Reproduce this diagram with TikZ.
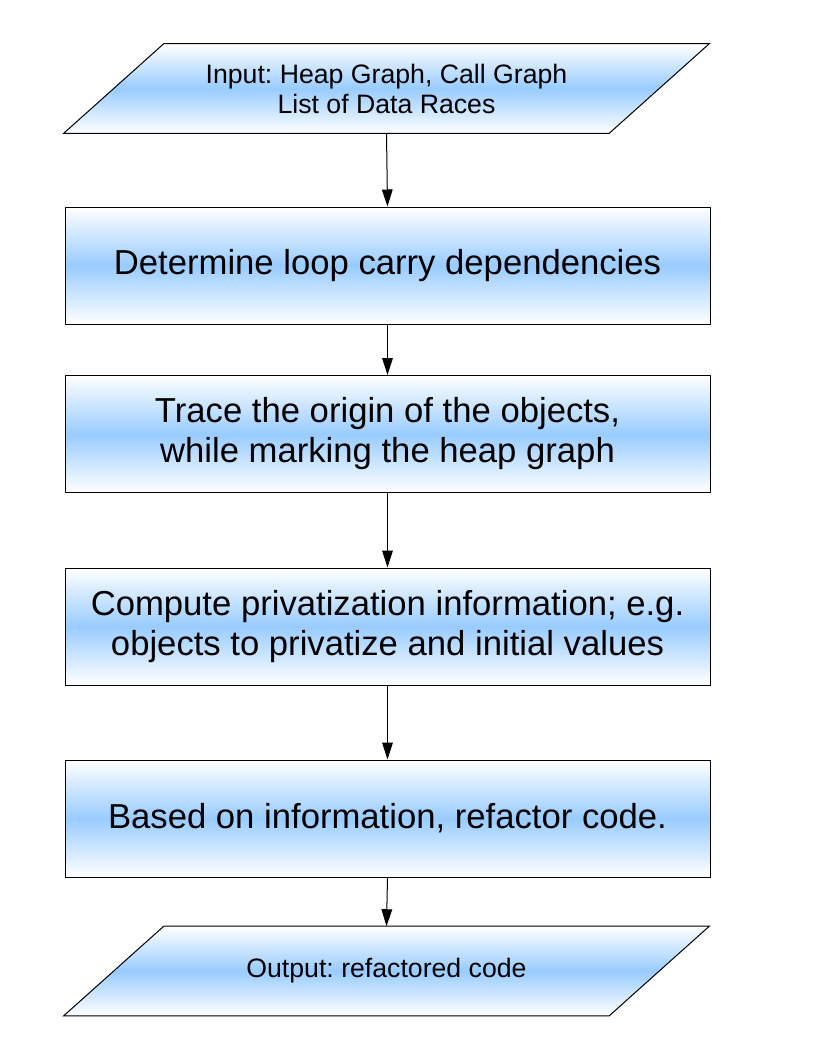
\documentclass[tikz,border=0pt]{standalone}
\usepackage{fontspec}
\setmainfont{Liberation Sans}
\frenchspacing
\usetikzlibrary{backgrounds,arrows.meta}
\definecolor{stepblue}{RGB}{153,204,255}
\begin{document}
\begin{tikzpicture}[x=0.75pt,y=-0.75pt,
		every node/.style={align=center,inner sep=0pt},
		blueshade/.style={draw,line width=0.75pt,top color=white,bottom color=white,middle color=stepblue},
		stepbox/.style={blueshade,minimum width=483.75pt,minimum height=87.75pt,font=\fontsize{26}{30}\selectfont},
		iobox/.style={minimum width=483.75pt,minimum height=66.75pt,font=\fontsize{20}{22.5}\selectfont}]
		\useasboundingbox (0,0) rectangle (816,1056);
		\path (386.5,88.5) node[iobox] (in) {Input: Heap Graph, Call Graph\\List of Data Races}
		(387.5,265.5) node[stepbox] (deps) {Determine loop carry dependencies}
		(387.5,434) node[stepbox] (trace) {Trace the origin of the objects,\\while marking the heap graph}
		(387.5,626.5) node[stepbox] (priv) {Compute privatization information; e.g.\\objects to privatize and initial values}
		(387.5,818.5) node[stepbox] (refac) {Based on information, refactor code.}
		(386.5,971) node[iobox] (out) {Output: refactored code};

		% slanted input/output shapes
		\begin{scope}[on background layer]
			\foreach \p in {in,out}
				\path[blueshade] ([xshift=75pt]\p.north west) -- (\p.north east) -- ([xshift=-75pt]\p.south east) -- (\p.south west) -- cycle;
		\end{scope}

		\draw[line width=0.75pt,-{Triangle[length=12.75pt,width=8pt]}] (in.south) -- (deps.north);
		\draw[line width=0.75pt,-{Triangle[length=12.75pt,width=8pt]}] (deps) -- (trace);
		\draw[line width=0.75pt,-{Triangle[length=12.75pt,width=8pt]}] (trace) -- (priv);
		\draw[line width=0.75pt,-{Triangle[length=12.75pt,width=8pt]}] (priv) -- (refac);
		\draw[line width=0.75pt,-{Triangle[length=12.75pt,width=8pt]}] (refac.south) -- (out.north);

	\end{tikzpicture}
\end{document}
